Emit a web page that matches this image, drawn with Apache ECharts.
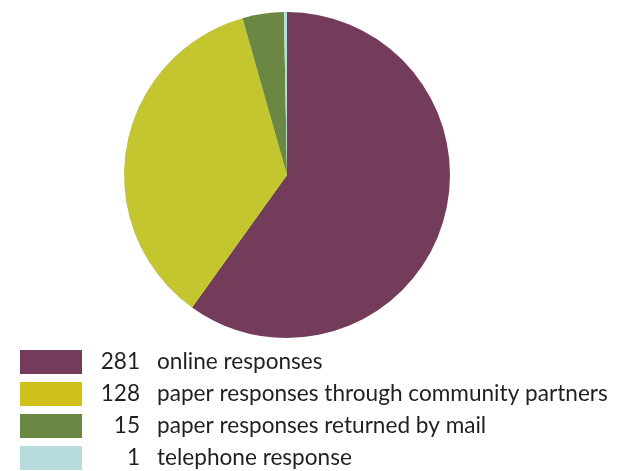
<!DOCTYPE html>
<html>
<head>
<meta charset="utf-8">
<script src="https://cdn.jsdelivr.net/npm/echarts@6/dist/echarts.min.js"></script>
<style>html,body{margin:0;padding:0;background:#fff;}#c{width:644px;height:471px;}</style>
</head>
<body>
<div id="c"></div>
<script>
// Categories and the counts shown in the legend
var categories = ['online responses', 'paper responses through community partners', 'paper responses returned by mail', 'telephone response'];
var counts = [281, 128, 15, 1];
// Slice shares as drawn in the picture (percent of the circle)
var sliceShares = [59.9, 35.7, 4.1, 0.3];
var sliceColors = ['#733c5a', '#c4c630', '#6a8844', '#b8dcdc'];
var legendColors = ['#733c5a', '#cfc01a', '#6a8844', '#b8dcdc'];

var FONT_SIZE = 22.6;
var FONT = 'Lato';
var TEXT_COLOR = '#231f20';

var chart = echarts.init(document.getElementById('c'));

// measure numbers so they can be right-aligned
var ctx = document.createElement('canvas').getContext('2d');
ctx.font = FONT_SIZE + 'px ' + FONT;
var rich = {
  t: { padding: [0, 0, 0, 17], fontFamily: FONT, fontSize: FONT_SIZE, color: TEXT_COLOR, lineHeight: 24 }
};
var idxByName = {};
categories.forEach(function (c, i) {
  idxByName[c] = i;
  var w = ctx.measureText(String(counts[i])).width;
  rich['n' + i] = { padding: [0, 0, 0, Math.max(0, 53 - w)], fontFamily: FONT, fontSize: FONT_SIZE, color: TEXT_COLOR, lineHeight: 24 };
});

chart.setOption({
  animation: false,
  legend: {
    orient: 'vertical',
    left: 20,
    top: 350,
    height: 160,
    padding: 0,
    itemWidth: 62,
    itemHeight: 24,
    itemGap: 8,
    icon: 'rect',
    selectedMode: false,
    data: categories.map(function (c, i) {
      return { name: c, itemStyle: { color: legendColors[i] } };
    }),
    formatter: function (name) {
      var i = idxByName[name];
      return '{n' + i + '|' + counts[i] + '}{t|' + name + '}';
    },
    textStyle: {
      fontFamily: FONT,
      fontSize: FONT_SIZE,
      color: TEXT_COLOR,
      lineHeight: 24,
      rich: rich
    }
  },
  series: [{
    type: 'pie',
    center: [287, 175],
    radius: [0, 163],
    startAngle: 90,
    clockwise: true,
    label: { show: false },
    labelLine: { show: false },
    emphasis: { disabled: true },
    itemStyle: { borderWidth: 0 },
    data: categories.map(function (c, i) {
      return { name: c, value: sliceShares[i], itemStyle: { color: sliceColors[i] } };
    })
  }]
});
</script>
</body>
</html>
